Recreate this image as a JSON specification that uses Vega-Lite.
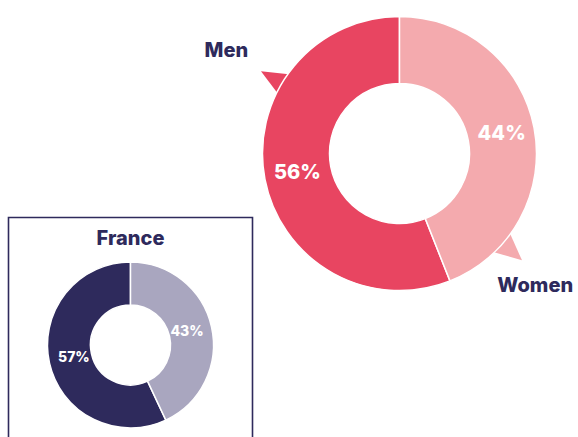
{
  "$schema": "https://vega.github.io/schema/vega-lite/v6.json",
  "padding": {"left": 7.5, "top": 13.5, "right": 0, "bottom": 0},
  "background": "white",
  "config": {
    "view": {"stroke": null},
    "font": "Inter"
  },
  "bounds": "flush",
  "align": "none",
  "columns": 2,
  "spacing": {"row": -73, "column": 10},
  "resolve": {"scale": {"color": "independent", "theta": "independent", "shape": "independent"}},
  "datasets": {
    "global": [
      {"group": "Men", "share": 0.56},
      {"group": "Women", "share": 0.44}
    ],
    "france": [
      {"group": "Men", "share": 0.57},
      {"group": "Women", "share": 0.43}
    ]
  },
  "concat": [
    {
      "width": 244,
      "height": 10,
      "data": {"name": "france"},
      "mark": {"type": "text", "opacity": 0},
      "encoding": {"text": {"value": ""}}
    },
    {
      "width": 274,
      "height": 274,
      "data": {"name": "global"},
      "layer": [
        {
          "mark": {"type": "point", "filled": true, "opacity": 1, "size": 75076, "strokeWidth": 0},
          "encoding": {
            "shape": {
              "field": "group",
              "type": "nominal",
              "scale": {
                "domain": ["Men", "Women"],
                "range": [
                  "M -1.011 -0.600 L -0.707 -0.568 L -0.835 -0.366 Z",
                  "M 0.894 0.780 L 0.766 0.492 L 0.572 0.686 Z"
                ]
              },
              "legend": null
            },
            "color": {
              "field": "group",
              "type": "nominal",
              "scale": {"domain": ["Men", "Women"], "range": ["#e84561", "#f4aaae"]},
              "legend": null
            }
          }
        },
        {
          "mark": {"type": "arc", "radius": 137, "innerRadius": 70, "stroke": "white", "strokeWidth": 1.5},
          "encoding": {
            "theta": {"field": "share", "type": "quantitative", "stack": true},
            "order": {"field": "group", "sort": "descending"},
            "color": {
              "field": "group",
              "type": "nominal",
              "scale": {"domain": ["Men", "Women"], "range": ["#e84561", "#f4aaae"]},
              "legend": null
            }
          }
        },
        {
          "mark": {"type": "text", "radius": 104, "fontSize": 20, "fontWeight": 800, "color": "white"},
          "encoding": {
            "theta": {"field": "share", "type": "quantitative", "stack": true},
            "order": {"field": "group", "sort": "descending"},
            "text": {"field": "share", "type": "quantitative", "format": ".0%"}
          }
        },
        {
          "transform": [{"filter": "datum.group === 'Men'"}],
          "mark": {"type": "text", "radius": 201, "theta": 5.245, "fontSize": 20, "fontWeight": 800, "color": "#2e2a5c"},
          "encoding": {"text": {"field": "group", "type": "nominal"}}
        },
        {
          "transform": [{"filter": "datum.group === 'Women'"}],
          "mark": {"type": "text", "radius": 190, "theta": 2.346, "fontSize": 20, "fontWeight": 800, "color": "#2e2a5c"},
          "encoding": {"text": {"field": "group", "type": "nominal"}}
        }
      ]
    },
    {
      "width": 244,
      "height": 255,
      "view": {"stroke": "#2e2a5c", "strokeWidth": 1.6},
      "layer": [
        {
          "data": {"name": "france"},
          "mark": {"type": "arc", "radius": 83, "innerRadius": 40, "stroke": "white", "strokeWidth": 1.5},
          "encoding": {
            "theta": {"field": "share", "type": "quantitative", "stack": true},
            "order": {"field": "group", "sort": "descending"},
            "color": {
              "field": "group",
              "type": "nominal",
              "scale": {"domain": ["Men", "Women"], "range": ["#2e2a5c", "#a9a6bf"]},
              "legend": null
            }
          }
        },
        {
          "data": {"name": "france"},
          "mark": {"type": "text", "radius": 58, "fontSize": 14, "fontWeight": 800, "color": "white"},
          "encoding": {
            "theta": {"field": "share", "type": "quantitative", "stack": true},
            "order": {"field": "group", "sort": "descending"},
            "text": {"field": "share", "type": "quantitative", "format": ".0%"}
          }
        },
        {
          "data": {"values": [{"country": "France"}]},
          "mark": {"type": "text", "radius": 106, "theta": 0, "fontSize": 20, "fontWeight": 800, "color": "#2e2a5c"},
          "encoding": {"text": {"field": "country", "type": "nominal"}}
        }
      ]
    }
  ]
}
